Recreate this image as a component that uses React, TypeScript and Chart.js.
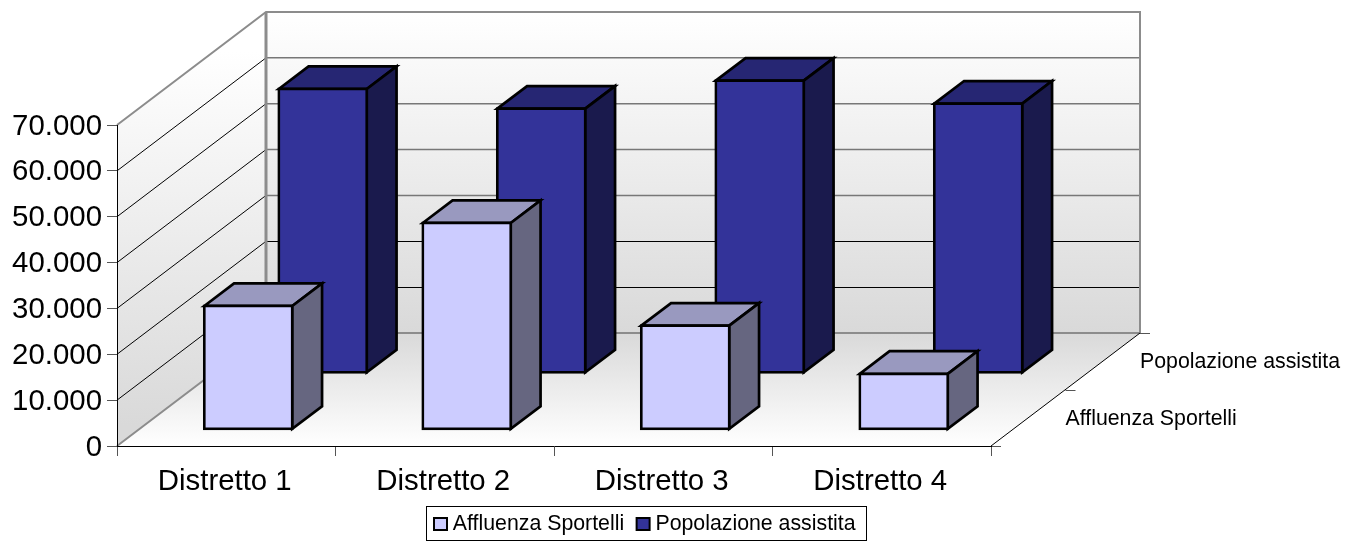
import React, { useEffect, useRef } from "react";
import { Chart, registerables } from "chart.js";

Chart.register(...registerables);

const categories = ["Distretto 1", "Distretto 2", "Distretto 3", "Distretto 4"];
const seriesNames = ["Affluenza Sportelli", "Popolazione assistita"];
const affluenzaSportelli = [26900, 45000, 22600, 12100];
const popolazioneAssistita = [61900, 57600, 63700, 58700];
const axisMax = 70000;
const axisStep = 10000;

const FONT = "'Liberation Sans', Arial, sans-serif";
const DEPTH_X = 149;
const DEPTH_Y = 113;
const SLOT_FRACTION = [0.1477, 0.6477];
const BAR_DEPTH_FRACTION = 0.2;
const faceColors = ["#CCCCFF", "#333399"];
const topColors = ["#9999BF", "#262673"];
const sideColors = ["#666680", "#1A1A4D"];
const BAR_BORDER = 2.7;

const formatThousands = (v: number) => String(v).replace(/\B(?=(\d{3})+$)/g, ".");

const threeD = {
  id: "threeD",
  beforeDraw(chart: any) {
    const { ctx, chartArea: a, scales } = chart;
    const y = scales.y;
    const l = a.left, r = a.right, b = a.bottom, t = a.top;
    ctx.save();
    // back wall
    let g = ctx.createLinearGradient(0, t - DEPTH_Y, 0, b - DEPTH_Y);
    g.addColorStop(0, "#FFFFFF");
    g.addColorStop(1, "#D9D9D9");
    ctx.fillStyle = g;
    ctx.fillRect(l + DEPTH_X, t - DEPTH_Y, r - l, b - t);
    // left wall
    g = ctx.createLinearGradient(0, t - DEPTH_Y + 40, 0, b - 20);
    g.addColorStop(0, "#FFFFFF");
    g.addColorStop(1, "#D9D9D9");
    ctx.fillStyle = g;
    ctx.beginPath();
    ctx.moveTo(l, t);
    ctx.lineTo(l + DEPTH_X, t - DEPTH_Y);
    ctx.lineTo(l + DEPTH_X, b - DEPTH_Y);
    ctx.lineTo(l, b);
    ctx.closePath();
    ctx.fill();
    // floor
    g = ctx.createLinearGradient(0, b - DEPTH_Y, 0, b);
    g.addColorStop(0, "#D9D9D9");
    g.addColorStop(1, "#FFFFFF");
    ctx.fillStyle = g;
    ctx.beginPath();
    ctx.moveTo(l, b);
    ctx.lineTo(l + DEPTH_X, b - DEPTH_Y);
    ctx.lineTo(r + DEPTH_X, b - DEPTH_Y);
    ctx.lineTo(r, b);
    ctx.closePath();
    ctx.fill();
    // gridlines
    for (let v = axisStep; v < axisMax; v += axisStep) {
      const py = y.getPixelForValue(v);
      ctx.strokeStyle = "#000000";
      ctx.lineWidth = 1;
      ctx.beginPath();
      ctx.moveTo(l, py);
      ctx.lineTo(l + DEPTH_X, py - DEPTH_Y);
      ctx.stroke();
      const crisp = v <= 2 * axisStep;
      const by = crisp ? Math.floor(py - DEPTH_Y) + 0.5 : py - DEPTH_Y;
      ctx.strokeStyle = crisp ? "#000000" : "#777777";
      ctx.lineWidth = crisp ? 1 : 1.5;
      ctx.beginPath();
      ctx.moveTo(l + DEPTH_X, by);
      ctx.lineTo(r + DEPTH_X, by);
      ctx.stroke();
    }
    // wall edges
    ctx.strokeStyle = "#8C8C8C";
    ctx.lineWidth = 2;
    ctx.lineJoin = "miter";
    ctx.beginPath();
    ctx.moveTo(l, t);
    ctx.lineTo(l + DEPTH_X, t - DEPTH_Y);
    ctx.lineTo(r + DEPTH_X, t - DEPTH_Y);
    ctx.lineTo(r + DEPTH_X, b - DEPTH_Y);
    ctx.lineTo(l + DEPTH_X, b - DEPTH_Y);
    ctx.lineTo(l, b);
    ctx.stroke();
    ctx.lineWidth = 3;
    ctx.beginPath();
    ctx.moveTo(l + DEPTH_X, t - DEPTH_Y);
    ctx.lineTo(l + DEPTH_X, b - DEPTH_Y);
    ctx.stroke();
    // floor right edge
    ctx.strokeStyle = "#000000";
    ctx.lineWidth = 1;
    ctx.beginPath();
    ctx.moveTo(r, b);
    ctx.lineTo(r + DEPTH_X, b - DEPTH_Y);
    ctx.stroke();
    // depth ticks
    [0, 0.5, 1].forEach((f) => {
      const tx = r + DEPTH_X * f;
      const ty = Math.round(b - DEPTH_Y * f) + 0.5;
      ctx.strokeStyle = "#555555";
      ctx.beginPath();
      ctx.moveTo(tx, ty);
      ctx.lineTo(tx + 10, ty);
      ctx.stroke();
    });
    // depth labels
    ctx.fillStyle = "#000000";
    ctx.font = `21.3px ${FONT}`;
    ctx.textAlign = "left";
    ctx.textBaseline = "middle";
    seriesNames.forEach((name, i) => {
      const anchor = (i + 1) / 2;
      const f = (i + 0.5) / 2;
      ctx.fillText(name, r + DEPTH_X * anchor, b - DEPTH_Y * f + 1);
    });
    ctx.restore();
  },
  beforeDatasetDraw(chart: any, args: any) {
    const { ctx } = chart;
    const i = args.index;
    const dx = DEPTH_X * SLOT_FRACTION[i];
    const dy = -DEPTH_Y * SLOT_FRACTION[i];
    const sx = DEPTH_X * BAR_DEPTH_FRACTION;
    const sy = -DEPTH_Y * BAR_DEPTH_FRACTION;
    ctx.save();
    ctx.translate(dx, dy);
    const meta = chart.getDatasetMeta(i);
    ctx.lineJoin = "miter";
    ctx.strokeStyle = "#000000";
    ctx.lineWidth = BAR_BORDER;
    meta.data.forEach((el: any) => {
      const x0 = el.x - el.width / 2;
      const x1 = el.x + el.width / 2;
      const y0 = el.y;
      const y1 = el.base;
      ctx.fillStyle = topColors[i];
      ctx.beginPath();
      ctx.moveTo(x0, y0);
      ctx.lineTo(x0 + sx, y0 + sy);
      ctx.lineTo(x1 + sx, y0 + sy);
      ctx.lineTo(x1, y0);
      ctx.closePath();
      ctx.fill();
      ctx.stroke();
      ctx.fillStyle = sideColors[i];
      ctx.beginPath();
      ctx.moveTo(x1, y0);
      ctx.lineTo(x1 + sx, y0 + sy);
      ctx.lineTo(x1 + sx, y1 + sy);
      ctx.lineTo(x1, y1);
      ctx.closePath();
      ctx.fill();
      ctx.stroke();
    });
  },
  afterDatasetDraw(chart: any) {
    chart.ctx.restore();
  },
  afterLayout(chart: any) {
    const lg = chart.legend;
    if (!lg) return;
    const nl = 421.5, nt = 501.85;
    const ddx = nl - lg.left, ddy = nt - lg.top;
    lg.left += ddx; lg.right += ddx; lg.top += ddy; lg.bottom += ddy;
    (lg.legendHitBoxes || []).forEach((h: any) => { h.left += ddx; h.top += ddy; });
  },
  afterDraw(chart: any) {
    const { ctx } = chart;
    const lg = chart.legend;
    ctx.save();
    ctx.strokeStyle = "#000000";
    ctx.lineWidth = 1;
    ctx.strokeRect(426.5, 506.5, 440, 34);
    (lg.legendHitBoxes || []).forEach((h: any, i: number) => {
      ctx.fillStyle = faceColors[i];
      ctx.lineWidth = 2;
      ctx.fillRect(h.left + 1, 518, 13, 12);
      ctx.strokeRect(h.left + 1, 518, 13, 12);
    });
    ctx.restore();
  },
};

export default function App() {
  const ref = useRef<HTMLCanvasElement | null>(null);
  useEffect(() => {
    document.body.style.margin = "0";
    document.body.style.background = "#FFFFFF";
    const chart = new Chart(ref.current as HTMLCanvasElement, {
      type: "bar",
      data: {
        labels: categories,
        datasets: [
          {
            label: seriesNames[0],
            data: affluenzaSportelli,
            backgroundColor: faceColors[0],
            borderColor: "#000000",
            borderWidth: BAR_BORDER,
            borderSkipped: false,
            inflateAmount: BAR_BORDER / 2,
            barThickness: 88,
            grouped: false,
            clip: false,
          },
          {
            label: seriesNames[1],
            data: popolazioneAssistita,
            backgroundColor: faceColors[1],
            borderColor: "#000000",
            borderWidth: BAR_BORDER,
            borderSkipped: false,
            inflateAmount: BAR_BORDER / 2,
            barThickness: 88,
            grouped: false,
            clip: false,
          },
        ],
      } as any,
      options: {
        responsive: false,
        animation: false,
        layout: { autoPadding: false, padding: { top: 125, right: 369, left: 0, bottom: 0 } },
        plugins: {
          title: { display: false },
          tooltip: { enabled: false },
          legend: {
            position: "bottom",
            align: "start",
            labels: {
              color: "#000000",
              font: { family: FONT, size: 21.3 },
              boxWidth: 9.2,
              boxHeight: 14,
              padding: 11.5,
              generateLabels: (c: any) =>
                (Chart.defaults.plugins.legend.labels as any).generateLabels(c).map((l: any) => ({
                  ...l,
                  fillStyle: "rgba(0,0,0,0)",
                  strokeStyle: "rgba(0,0,0,0)",
                  lineWidth: 0,
                })),
            },
          },
        },
        scales: {
          x: {
            grid: { drawOnChartArea: false, drawTicks: true, tickLength: 10, color: "#555555", offset: true },
            border: { color: "#000000", width: 1 },
            ticks: { color: "#000000", font: { family: FONT, size: 29.4 }, padding: 8.5, labelOffset: -1.5, autoSkip: false, maxRotation: 0 },
            afterFit: (s: any) => {
              s.height = 541 - 446 - (s.chart.legend ? s.chart.legend.height : 0);
            },
          },
          y: {
            min: 0,
            max: axisMax,
            grid: { drawOnChartArea: false, drawTicks: true, tickLength: 10, color: "#555555" },
            border: { color: "#000000", width: 1 },
            ticks: {
              stepSize: axisStep,
              color: "#000000",
              font: { family: FONT, size: 29.4 },
              padding: 5,
              labelOffset: 1.5,
              callback: (v: any) => formatThousands(Number(v)),
            },
            afterFit: (s: any) => {
              s.width = 117;
            },
          },
        },
      } as any,
      plugins: [threeD as any],
    });
    return () => chart.destroy();
  }, []);
  return (
    <div style={{ position: "absolute", left: 0, top: 0, width: 1360, height: 541 }}>
      <canvas ref={ref} width={1360} height={541} style={{ display: "block" }} />
    </div>
  );
}
